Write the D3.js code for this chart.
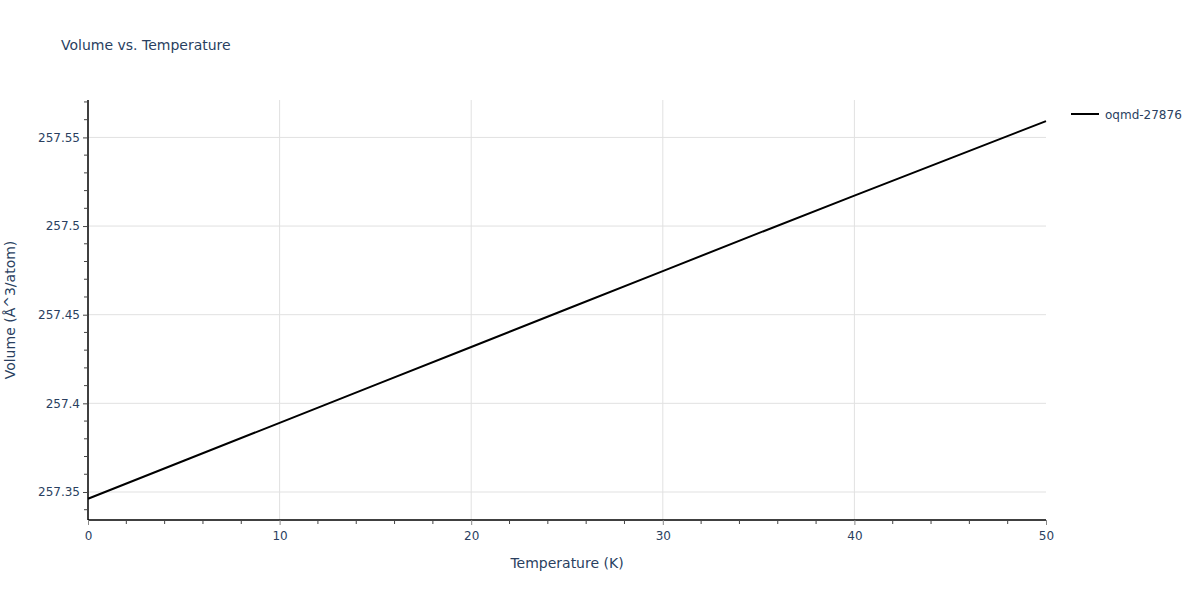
<!DOCTYPE html>
<html>
<head>
<meta charset="utf-8">
<script src="https://cdn.jsdelivr.net/npm/d3@7"></script>
<style>
body{margin:0;background:#fff;}
text{font-family:"DejaVu Sans",Verdana,sans-serif;}
</style>
</head>
<body>
<svg id="chart" width="1200" height="600"></svg>
<script>
const temperatures = [0, 5, 10, 15, 20, 25, 30, 35, 40, 45, 50];
const volumes = [257.3462, 257.3676, 257.3890, 257.4104, 257.4318, 257.4532, 257.4746, 257.4960, 257.5172, 257.5382, 257.5592];
const xTicks = [0, 10, 20, 30, 40, 50];
const yTicks = [257.35, 257.4, 257.45, 257.5, 257.55];
const seriesName = "oqmd-27876";

(function () {
const svg = d3.select("#chart");
const pL = 88, pR = 1046, pT = 100, pB = 520;
const x = d3.scaleLinear().domain([0, 50]).range([pL, pR]);
const y = d3.scaleLinear().domain([257.3342, 257.5711]).range([pB, pT]);
const fontColor = "#2a3f5f";
const ff = '"DejaVu Sans",Verdana,sans-serif';

// grid
svg.append("g").selectAll("line").data(xTicks.filter(d => d > 0 && d < 50)).join("line")
  .attr("x1", d => x(d)).attr("x2", d => x(d)).attr("y1", pT).attr("y2", pB)
  .attr("stroke", "#e1e1e1").attr("stroke-width", 1);
svg.append("g").selectAll("line").data(yTicks).join("line")
  .attr("x1", pL).attr("x2", pR).attr("y1", d => y(d)).attr("y2", d => y(d))
  .attr("stroke", "#e1e1e1").attr("stroke-width", 1);

// line
const line = d3.line().x((d, i) => x(temperatures[i])).y(d => y(d));
svg.append("path").datum(volumes).attr("d", line)
  .attr("fill", "none").attr("stroke", "#000").attr("stroke-width", 2);

// x axis
const xMinor = d3.range(0, 50.01, 2).filter(d => d % 10 !== 0);
const xAxisG = svg.append("g").attr("transform", `translate(0,${pB})`);
xAxisG.call(d3.axisBottom(x).tickValues(xTicks).tickSize(5).tickPadding(6).tickFormat(d3.format("d")));
xAxisG.select(".domain").attr("stroke", "#000").attr("stroke-width", 1.5).attr("d", `M${pL},0H${pR}`);
xAxisG.selectAll(".tick line").attr("stroke", "#888");
xAxisG.selectAll(".tick text").attr("fill", fontColor).attr("font-size", 12).style("font-family", ff);
xAxisG.append("g").selectAll("line").data(xMinor).join("line")
  .attr("x1", d => x(d)).attr("x2", d => x(d)).attr("y1", 0).attr("y2", 4)
  .attr("stroke", "#444");

// y axis
const yMinor = d3.range(257.34, 257.575, 0.01).filter(v => !yTicks.some(t => Math.abs(t - v) < 1e-6) && y(v) >= pT - 0.5 && y(v) <= pB);
const yAxisG = svg.append("g").attr("transform", `translate(${pL},0)`);
yAxisG.call(d3.axisLeft(y).tickValues(yTicks).tickSize(5).tickPadding(3).tickFormat(d => String(+d.toFixed(2))));
yAxisG.select(".domain").attr("stroke", "#000").attr("stroke-width", 1.5).attr("d", `M0,${pT}V${pB}`);
yAxisG.selectAll(".tick line").attr("stroke", "#444");
yAxisG.selectAll(".tick text").attr("fill", fontColor).attr("font-size", 12).style("font-family", ff);
yAxisG.append("g").selectAll("line").data(yMinor).join("line")
  .attr("x1", -4).attr("x2", 0).attr("y1", d => y(d)).attr("y2", d => y(d))
  .attr("stroke", "#444");

// titles
svg.append("text").attr("x", 61).attr("y", 50).attr("fill", fontColor).attr("font-size", 14)
  .text("Volume vs. Temperature");
svg.append("text").attr("x", (pL + pR) / 2).attr("y", 568).attr("text-anchor", "middle")
  .attr("fill", fontColor).attr("font-size", 14).text("Temperature (K)");
svg.append("text").attr("transform", `translate(15,${(pT + pB) / 2}) rotate(-90)`)
  .attr("text-anchor", "middle").attr("fill", fontColor).attr("font-size", 14).text("Volume (Å^3/atom)");

// legend
svg.append("line").attr("x1", 1071).attr("x2", 1099).attr("y1", 114).attr("y2", 114)
  .attr("stroke", "#000").attr("stroke-width", 2);
svg.append("text").attr("x", 1105).attr("y", 118.5).attr("fill", fontColor).attr("font-size", 12)
  .text(seriesName);
})();
</script>
</body>
</html>
